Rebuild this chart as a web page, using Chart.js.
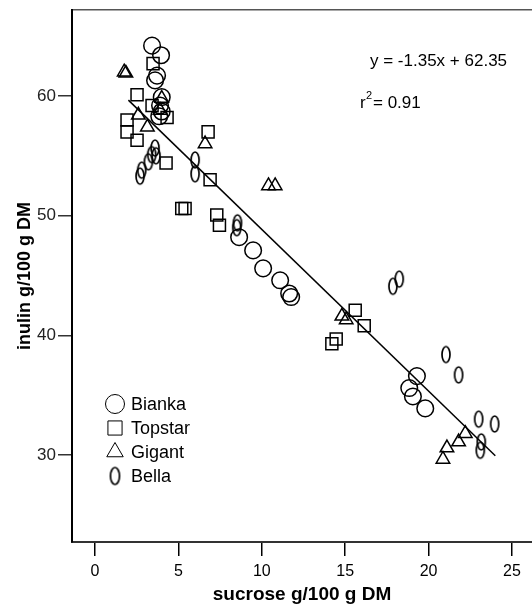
<!DOCTYPE html>
<html>
<head>
<meta charset="utf-8">
<script src="https://cdn.jsdelivr.net/npm/chart.js@4.4.0/dist/chart.umd.min.js"></script>
<style>
  html, body { margin: 0; padding: 0; background: #fff; }
  #wrap { width: 532px; height: 606px; position: relative; }
</style>
</head>
<body>
<div id="wrap"><canvas id="myChart"></canvas></div>
<script>
// values: sucrose (x) and inulin (y), g/100 g DM
const biankaX = [3.42, 3.96, 3.72, 3.6, 4.0, 3.9, 4.0, 3.85, 8.64, 9.48, 10.08, 11.1, 11.64, 11.76, 19.3, 18.84, 19.06, 19.8];
const biankaY = [64.2, 63.4, 61.7, 61.3, 59.9, 59.2, 58.7, 58.3, 48.2, 47.1, 45.6, 44.6, 43.5, 43.2, 36.6, 35.6, 34.9, 33.9];

const topstarX = [3.48, 2.52, 3.42, 4.32, 1.92, 1.92, 2.52, 4.26, 6.78, 6.9, 5.2, 5.4, 7.3, 7.46, 15.6, 16.14, 14.46, 14.2];
const topstarY = [62.7, 60.1, 59.2, 58.2, 58.0, 57.0, 56.3, 54.4, 57.0, 53.0, 50.6, 50.6, 50.05, 49.2, 42.1, 40.8, 39.7, 39.3];

const gigantX = [1.75, 1.85, 2.6, 3.14, 4.0, 3.9, 6.6, 10.4, 10.8, 14.8, 15.06, 22.2, 21.8, 21.1, 20.86];
const gigantY = [62.0, 61.9, 58.4, 57.4, 59.8, 58.8, 56.0, 52.5, 52.5, 41.6, 41.3, 31.8, 31.1, 30.6, 29.65];

const bellaX = [3.6, 3.4, 3.66, 3.2, 2.8, 2.7, 6.0, 6.0, 8.54, 8.5, 17.86, 18.24, 21.04, 21.8, 23.0, 23.96, 23.16, 23.1];
const bellaY = [55.65, 55.1, 55.0, 54.5, 53.8, 53.3, 54.65, 53.5, 49.4, 49.0, 44.1, 44.7, 38.4, 36.7, 33.0, 32.6, 31.1, 30.4];

// regression line end points as drawn
const fitX = [2.0, 24.0];
const fitY = [59.65, 29.95];

const xTicks = [0, 5, 10, 15, 20, 25];
const yTicks = [30, 40, 50, 60];
const seriesNames = ["Bianka", "Topstar", "Gigant", "Bella"];

const FONT = "'Liberation Sans', Arial, sans-serif";

function ellipseImage(w, h, lw) {
  const c = document.createElement("canvas");
  c.width = w + 4;
  c.height = h + 4;
  const g = c.getContext("2d");
  g.strokeStyle = "#000";
  g.lineWidth = lw;
  g.beginPath();
  g.ellipse(c.width / 2, c.height / 2, w / 2, h / 2, 0, 0, Math.PI * 2);
  g.stroke();
  return c;
}
const ellipseSmall = ellipseImage(8, 16, 1.7);
const ellipseLegend = ellipseImage(9, 17, 1.7);

const pts = (xs, ys) => xs.map((x, i) => ({ x: x, y: ys[i] }));

function scatterSet(label, xs, ys, style, radius) {
  return {
    type: "scatter",
    label: label,
    data: pts(xs, ys),
    pointStyle: style,
    pointRadius: radius,
    pointHoverRadius: radius,
    pointBorderColor: "#000",
    pointBackgroundColor: "rgba(0,0,0,0)",
    pointBorderWidth: 1.5,
  };
}

const legendPlugin = {
  id: "insideLegend",
  afterDraw(chart) {
    const ctx = chart.ctx;
    const a = chart.chartArea;
    const styles = [
      { pointStyle: "circle", radius: 9.5, borderWidth: 1.4 },
      { pointStyle: "rect", radius: 10, borderWidth: 1.4 },
      { pointStyle: "triangle", radius: 9.5, borderWidth: 1.4 },
      { pointStyle: ellipseLegend, radius: 8, borderWidth: 1.4 },
    ];
    ctx.save();
    ctx.fillStyle = "#000";
    ctx.textBaseline = "middle";
    seriesNames.forEach((name, i) => {
      const y = a.bottom - 138 + i * 24;
      ctx.strokeStyle = "#000";
      ctx.fillStyle = "rgba(0,0,0,0)";
      Chart.helpers.drawPoint(ctx, styles[i], a.left + 43, y);
      ctx.fillStyle = "#000";
      ctx.font = "18px " + FONT;
      ctx.fillText(name, a.left + 59, y + 1);
    });
    // equation
    ctx.font = "17px " + FONT;
    ctx.fillText("y = -1.35x + 62.35", a.left + 298, a.top + 51);
    ctx.fillText("r", a.left + 288, a.top + 93);
    ctx.font = "11px " + FONT;
    ctx.fillText("2", a.left + 294, a.top + 86);
    ctx.font = "17px " + FONT;
    ctx.fillText("= 0.91", a.left + 301, a.top + 93);
    ctx.restore();
  },
};

new Chart(document.getElementById("myChart"), {
  data: {
    datasets: [
      {
        type: "line",
        data: pts(fitX, fitY),
        borderColor: "#000",
        borderWidth: 1.5,
        pointRadius: 0,
        fill: false,
      },
      scatterSet("Bianka", biankaX, biankaY, "circle", 8.3),
      scatterSet("Topstar", topstarX, topstarY, "rect", 8.5),
      scatterSet("Gigant", gigantX, gigantY, "triangle", 7.8),
      scatterSet("Bella", bellaX, bellaY, ellipseSmall, 8),
    ],
  },
  options: {
    responsive: true,
    maintainAspectRatio: false,
    animation: false,
    layout: { autoPadding: false, padding: { top: 0, right: 0, left: 0, bottom: 0 } },
    plugins: { legend: { display: false }, tooltip: { enabled: false } },
    scales: {
      x: {
        type: "linear",
        position: "bottom",
        min: -1.38,
        max: 26.2,
        afterBuildTicks: (s) => { s.ticks = xTicks.map((v) => ({ value: v })); },
        afterFit: (s) => { s.height = 64; s.paddingLeft = 0; s.paddingRight = 0; },
        grid: { drawOnChartArea: false, drawTicks: true, tickLength: 14, color: "#000", lineWidth: 1.5 },
        border: { display: true, color: "#333", width: 2 },
        ticks: { color: "#000", font: { family: FONT, size: 16 }, padding: 6, maxRotation: 0 },
        title: { display: true, text: "sucrose g/100 g DM", color: "#000", font: { family: FONT, size: 19, weight: "bold" }, padding: { top: 0, bottom: 0 } },
      },
      xTop: {
        type: "linear",
        position: "top",
        min: -1.38,
        max: 26.2,
        afterFit: (s) => { s.height = 10; s.paddingLeft = 0; s.paddingRight = 0; },
        grid: { display: false },
        border: { display: true, color: "#555", width: 1.5 },
        ticks: { display: false },
      },
      y: {
        type: "linear",
        min: 22.74,
        max: 67.18,
        afterBuildTicks: (s) => { s.ticks = yTicks.map((v) => ({ value: v })); },
        afterFit: (s) => { s.width = 72; s.paddingTop = 0; s.paddingBottom = 0; },
        grid: { drawOnChartArea: false, drawTicks: true, tickLength: 14, color: "#333", lineWidth: 1.5 },
        border: { display: true, color: "#000", width: 2 },
        ticks: { color: "#222", font: { family: FONT, size: 17 }, padding: 2 },
        title: { display: true, text: "inulin g/100 g DM", color: "#000", font: { family: FONT, size: 18, weight: "bold" }, padding: { top: 14, bottom: 4 } },
      },
    },
  },
  plugins: [legendPlugin],
});
</script>
</body>
</html>
